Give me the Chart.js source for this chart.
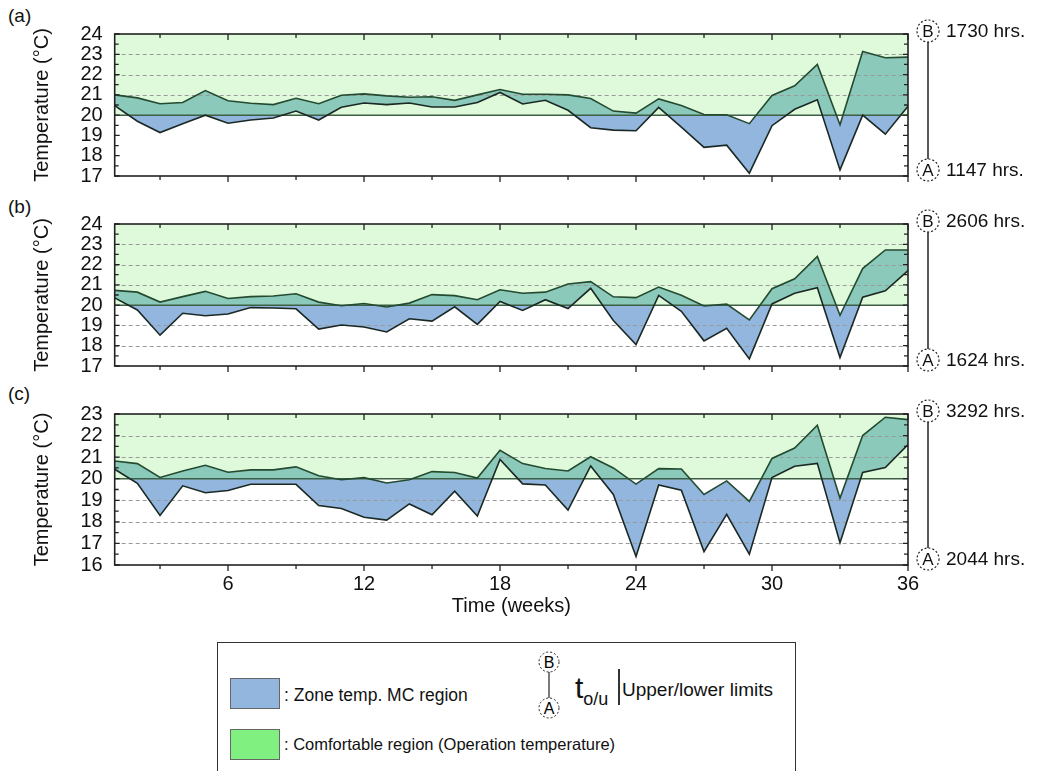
<!DOCTYPE html>
<html lang="en">
<head>
<meta charset="UTF-8">
<title>Zone temperature MC region vs comfortable region</title>
<script src="https://cdn.jsdelivr.net/npm/chart.js@4"></script>
<style>
  body { margin: 0; background: #fff; font-family: "Liberation Sans", Arial, sans-serif; color: #111; }
  #page { position: relative; width: 1039px; height: 771px; overflow: hidden; }
  .panel { position: absolute; left: 0; }
  .tag { position: absolute; left: 8px; font-size: 19px; transform: translateY(-50%); }
  #legend { position: absolute; left: 217px; top: 642px; width: 577px; height: 140px; border: 1.5px solid #333; }
  #legend .sw { position: absolute; left: 12px; width: 50px; height: 31px; border: 1px solid #666; box-sizing: border-box; }
  #legend .lt { position: absolute; font-size: 16.5px; transform: translateY(-50%); white-space: nowrap; }
</style>
</head>
<body>
<div id="page">
  <div class="tag" style="top:16px">(a)</div>
  <div class="tag" style="top:207px">(b)</div>
  <div class="tag" style="top:394px">(c)</div>

  <canvas class="panel" id="chartA" width="1039" height="200" style="top:0"></canvas>
  <canvas class="panel" id="chartB" width="1039" height="190" style="top:200px"></canvas>
  <canvas class="panel" id="chartC" width="1039" height="250" style="top:390px"></canvas>

  <div id="legend">
    <div class="sw" style="top:35px;background:#92b6de"></div>
    <div class="lt" style="left:66px;top:52px;font-size:17.5px">: Zone temp. MC region</div>
    <div class="sw" style="top:86px;background:#80f080"></div>
    <div class="lt" style="left:66px;top:101px">: Comfortable region (Operation temperature)</div>
    <svg style="position:absolute;left:317px;top:5px" width="32" height="76">
      <circle cx="14" cy="14" r="10" fill="none" stroke="#222" stroke-dasharray="2,2"/>
      <text x="14" y="19.5" font-size="16" text-anchor="middle" font-family="Liberation Sans, Arial">B</text>
      <line x1="14" y1="24" x2="14" y2="50" stroke="#222" stroke-width="1.2"/>
      <circle cx="14" cy="60" r="10" fill="none" stroke="#222" stroke-dasharray="2,2"/>
      <text x="14" y="65.5" font-size="16" text-anchor="middle" font-family="Liberation Sans, Arial">A</text>
    </svg>
    <div class="lt" style="left:357px;top:47px;font-size:30px">t<sub style="font-size:18px">o/u</sub></div>
    <div style="position:absolute;left:400px;top:26px;width:1.5px;height:36px;background:#333"></div>
    <div class="lt" style="left:404px;top:47px;font-size:19px">Upper/lower limits</div>
  </div>
</div>

<script>
// weeks on the x axis
const weeks = [1, 2, 3, 4, 5, 6, 7, 8, 9, 10, 11, 12, 13, 14, 15, 16, 17, 18,
               19, 20, 21, 22, 23, 24, 25, 26, 27, 28, 29, 30, 31, 32, 33, 34, 35, 36];
const xTicks = [6, 12, 18, 24, 30, 36];
const yTicksAB = [17, 18, 19, 20, 21, 22, 23, 24];
const yTicksC = [16, 17, 18, 19, 20, 21, 22, 23];

// (a) upper / lower limits of zone temperature (deg C)
const upperA = [21.0, 20.85, 20.56, 20.62, 21.21, 20.71, 20.59, 20.52, 20.83, 20.56, 20.98, 21.05, 20.95, 20.88, 20.91, 20.73, 21.0, 21.26,
                21.03, 21.03, 21.0, 20.82, 20.2, 20.1, 20.8, 20.48, 20.03, 20.02, 19.58, 20.97, 21.45, 22.5, 19.53, 23.14, 22.83, 22.86];
const lowerA = [20.47, 19.7, 19.14, 19.58, 20.0, 19.6, 19.76, 19.86, 20.2, 19.76, 20.39, 20.6, 20.52, 20.6, 20.4, 20.4, 20.62, 21.12,
                20.55, 20.73, 20.24, 19.38, 19.26, 19.23, 20.38, 19.41, 18.41, 18.52, 17.14, 19.48, 20.29, 20.76, 17.3, 20.0, 19.06, 20.44];

// (b)
const upperB = [20.73, 20.64, 20.15, 20.42, 20.68, 20.33, 20.42, 20.45, 20.56, 20.15, 19.97, 20.08, 19.91, 20.1, 20.52, 20.47, 20.27, 20.76,
                20.59, 20.64, 21.04, 21.16, 20.41, 20.37, 20.89, 20.49, 19.96, 20.05, 19.27, 20.81, 21.3, 22.4, 19.5, 21.8, 22.72, 22.72];
const lowerB = [20.36, 19.76, 18.52, 19.6, 19.48, 19.56, 19.88, 19.86, 19.82, 18.82, 19.02, 18.92, 18.68, 19.33, 19.21, 19.92, 19.05, 20.18,
                19.74, 20.27, 19.83, 20.83, 19.24, 18.06, 20.48, 19.7, 18.24, 18.86, 17.35, 20.06, 20.59, 20.86, 17.42, 20.39, 20.71, 21.7];

// (c)
const upperC = [20.82, 20.7, 20.06, 20.36, 20.62, 20.3, 20.41, 20.41, 20.55, 20.14, 19.95, 20.05, 19.8, 19.95, 20.33, 20.29, 20.03, 21.32,
                20.7, 20.47, 20.36, 21.02, 20.5, 19.75, 20.47, 20.45, 19.27, 19.9, 18.95, 20.94, 21.42, 22.48, 19.1, 22.0, 22.85, 22.74];
const lowerC = [20.44, 19.79, 18.3, 19.67, 19.35, 19.45, 19.74, 19.74, 19.74, 18.76, 18.62, 18.21, 18.08, 18.83, 18.33, 19.42, 18.27, 20.89,
                19.76, 19.71, 18.55, 20.59, 19.27, 16.39, 19.71, 19.47, 16.62, 18.35, 16.5, 20.05, 20.58, 20.71, 17.03, 20.29, 20.52, 21.58];

// hours above upper (B) / below lower (A) limits
const hoursA = ['1730', '1147'];
const hoursB = ['2606', '1624'];
const hoursC = ['3292', '2044'];

const COMFORT = 20;
const GREEN_BG = '#defada';
const TEAL = '#8bc9bb';
const BLUE = '#92b6de';
const FONT = 'Liberation Sans, Arial, sans-serif';

function pts(vals) {
  return weeks.map((w, i) => ({ x: w, y: vals[i] }));
}

function makePanel(id, upper, lower, yTicks, gridVals, hrs, padTop, xHeight, showX) {
  const yMin = yTicks[0], yMax = yTicks[yTicks.length - 1];

  const decor = {
    id: 'decor',
    beforeDraw(chart) {
      const { ctx, chartArea: a, scales: { y } } = chart;
      ctx.save();
      ctx.fillStyle = GREEN_BG;
      ctx.fillRect(a.left, y.getPixelForValue(yMax), a.right - a.left, y.getPixelForValue(COMFORT) - y.getPixelForValue(yMax));
      ctx.restore();
    },
    beforeDatasetsDraw(chart) {
      const { ctx, chartArea: a, scales: { y } } = chart;
      ctx.save();
      ctx.strokeStyle = '#9a9a9a';
      ctx.lineWidth = 1;
      ctx.setLineDash([4, 3]);
      gridVals.forEach(v => {
        const py = Math.round(y.getPixelForValue(v)) + 0.5;
        ctx.beginPath(); ctx.moveTo(a.left, py); ctx.lineTo(a.right, py); ctx.stroke();
      });
      ctx.setLineDash([]);
      ctx.strokeStyle = '#3d5f44';
      ctx.lineWidth = 1.5;
      const p20 = y.getPixelForValue(COMFORT);
      ctx.beginPath(); ctx.moveTo(a.left, p20); ctx.lineTo(a.right, p20); ctx.stroke();
      ctx.restore();
    },
    afterDatasetsDraw(chart) {
      const { ctx, chartArea: a, scales: { x, y } } = chart;
      ctx.save();
      ctx.strokeStyle = '#222';
      ctx.lineWidth = 1.6;
      ctx.strokeRect(a.left, a.top, a.right - a.left, a.bottom - a.top);
      ctx.lineWidth = 1.3;
      ctx.beginPath();
      // left / right ticks pointing inwards
      for (let v = yMin; v <= yMax; v += 0.5) {
        const py = y.getPixelForValue(v);
        const len = Number.isInteger(v) ? 5 : 4;
        ctx.moveTo(a.left, py); ctx.lineTo(a.left + len, py);
        ctx.moveTo(a.right, py); ctx.lineTo(a.right - len, py);
      }
      // top ticks inwards, bottom ticks outwards
      for (let w = 3; w <= 36; w += 3) {
        const px = x.getPixelForValue(w);
        const len = w % 6 === 0 ? 6 : 4;
        ctx.moveTo(px, a.top); ctx.lineTo(px, a.top + len);
        ctx.moveTo(px, a.bottom); ctx.lineTo(px, a.bottom + len);
      }
      ctx.stroke();

      // upper/lower limit markers on the right
      const cx = a.right + 20;
      const yB = a.top - 3, yBot = a.bottom - 6, r = 11;
      ctx.lineWidth = 1.2;
      ctx.setLineDash([2, 2]);
      ctx.beginPath(); ctx.arc(cx, yB, r, 0, Math.PI * 2); ctx.stroke();
      ctx.beginPath(); ctx.arc(cx, yBot, r, 0, Math.PI * 2); ctx.stroke();
      ctx.setLineDash([]);
      ctx.lineWidth = 1.5;
      ctx.beginPath(); ctx.moveTo(cx, yB + r); ctx.lineTo(cx, yBot - r); ctx.stroke();
      ctx.fillStyle = '#111';
      ctx.textAlign = 'center';
      ctx.textBaseline = 'middle';
      ctx.font = '17px ' + FONT;
      ctx.fillText('B', cx, yB + 1);
      ctx.fillText('A', cx, yBot + 1);
      ctx.textAlign = 'left';
      ctx.font = '19px ' + FONT;
      ctx.fillText(hrs[0] + ' hrs.', cx + 18, yB + 1);
      ctx.fillText(hrs[1] + ' hrs.', cx + 18, yBot + 1);
      ctx.restore();
    }
  };

  new Chart(document.getElementById(id), {
    type: 'line',
    data: {
      datasets: [
        { // region below 20 between lower limit and 20
          data: pts(lower), order: 3,
          borderColor: '#1c2823', borderWidth: 1.6,
          fill: { target: { value: COMFORT }, above: 'rgba(0,0,0,0)', below: BLUE }
        },
        { // upper limit
          data: pts(upper), order: 2,
          borderColor: '#244a30', borderWidth: 1.6,
          fill: { target: { value: COMFORT }, above: TEAL, below: '#ffffff' }
        },
        { // restores comfort band under the lower limit
          data: pts(lower), order: 1,
          borderColor: 'rgba(0,0,0,0)', borderWidth: 0,
          fill: { target: { value: COMFORT }, above: GREEN_BG, below: 'rgba(0,0,0,0)' }
        }
      ]
    },
    options: {
      responsive: false,
      animation: false,
      devicePixelRatio: 1,
      elements: { point: { radius: 0 }, line: { tension: 0 } },
      layout: { padding: { left: 0, right: 131, top: padTop, bottom: 0 } },
      plugins: {
        legend: { display: false },
        tooltip: { enabled: false },
        filler: { drawTime: 'beforeDatasetsDraw' }
      },
      scales: {
        x: {
          type: 'linear', min: 1, max: 36,
          afterBuildTicks: s => { s.ticks = xTicks.map(v => ({ value: v })); },
          afterFit: s => { s.height = xHeight; },
          grid: { display: false, drawTicks: false, tickLength: 0 },
          border: { display: false },
          ticks: { display: showX, autoSkip: false, padding: 7, color: '#111', font: { family: FONT, size: 20 }, maxRotation: 0 },
          title: { display: showX, text: 'Time (weeks)', color: '#111', font: { family: FONT, size: 20 }, padding: { top: 0, bottom: 22 } }
        },
        y: {
          min: yMin, max: yMax,
          afterBuildTicks: s => { s.ticks = yTicks.map(v => ({ value: v })); },
          afterFit: s => { s.width = 114.7; },
          grid: { display: false, drawTicks: false, tickLength: 0 },
          border: { display: false },
          ticks: { autoSkip: false, padding: 12, color: '#111', font: { family: FONT, size: 20 } },
          title: { display: true, text: 'Temperature (°C)', color: '#111', font: { family: FONT, size: 20 }, padding: { top: 30, bottom: 0 } }
        }
      }
    },
    plugins: [decor]
  });
}

makePanel('chartA', upperA, lowerA, yTicksAB, [21, 22, 23], hoursA, 34, 12, false);
makePanel('chartB', upperB, lowerB, yTicksAB, [18, 19, 21, 22, 23], hoursB, 23, 13, false);
makePanel('chartC', upperC, lowerC, yTicksC, [17, 18, 19, 21, 22], hoursC, 21, 75, true);
</script>
</body>
</html>
